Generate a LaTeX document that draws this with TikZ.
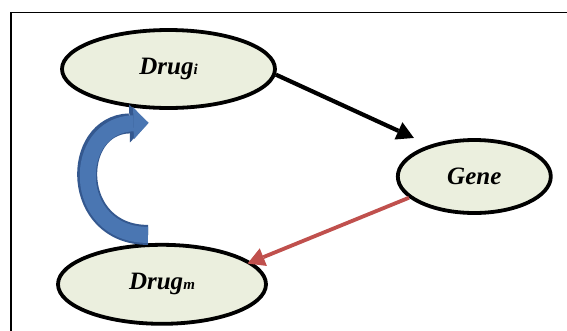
\documentclass[tikz,border=0pt]{standalone}
\usepackage{fontspec}
\setmainfont{Liberation Serif}
\usetikzlibrary{shapes.geometric, arrows.meta, positioning}
\definecolor{nodefill}{RGB}{235,239,222}
\definecolor{loopblue}{RGB}{74,118,178}
\definecolor{loopedge}{RGB}{52,88,143}
\definecolor{feedred}{RGB}{192,80,77}

\begin{document}
\begin{tikzpicture}[x=1pt, y=-1pt,
  entity/.style={ellipse, draw, line width=3.8pt, fill=nodefill, inner sep=0pt,
    font=\fontsize{25}{25}\selectfont\bfseries\itshape},
  link/.style={-{Triangle[length=17pt,width=19pt,line width'=0pt]}, line width=4.2pt},
  loop/.style={line width=16pt, draw=loopblue,
    -{Triangle[length=15pt,width=32pt,line width'=0pt]},
    preaction={draw=loopedge, line width=20pt,
      -{Triangle[length=19pt,width=38pt,line width'=0pt]}}}]
  \clip (0,0) rectangle (567,330);
  \fill[white] (0,0) rectangle (567,330);
  \draw[line width=1.5pt] (11,345) |- (580,12.5);

  \node[entity, minimum width=213pt, minimum height=78pt] (drugi) at (168.5,69)
    {Drug{\fontsize{15}{15}\selectfont i}};
  \node[entity, minimum width=153pt, minimum height=73pt, right=119pt of drugi, yshift=-107.5pt] (gene)
    {Gene};
  \node[entity, minimum width=208pt, minimum height=79pt, below=133pt of drugi, xshift=-6.5pt] (drugm)
    {Drug{\fontsize{15}{15}\selectfont m}};

  \draw[link] (drugi.-3) -- (gene.145) [shorten >=17pt];
  \draw[link, draw=feedred, fill=feedred, line width=3.8pt, shorten >=-4pt] (gene.198) -- (drugm.14);
  \draw[loop] ([xshift=-14pt,yshift=8pt]drugm.north)
    .. controls +(-78,0) and +(-78,2) .. ([xshift=-20pt,yshift=-13pt]drugi.south);
\end{tikzpicture}
\end{document}
